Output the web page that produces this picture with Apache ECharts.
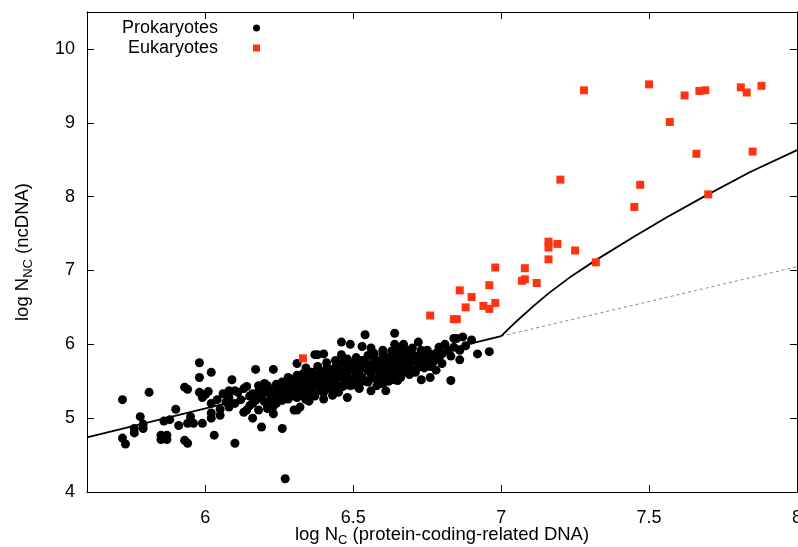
<!DOCTYPE html>
<html>
<head>
<meta charset="utf-8">
<script src="https://cdn.jsdelivr.net/npm/echarts@6/dist/echarts.min.js"></script>
<style>
html,body{margin:0;padding:0;background:#fff;}
#chart{width:798px;height:547px;}
</style>
</head>
<body>
<div id="chart"></div>
<script>
// ---- data ----
var xTicks = [6, 6.5, 7, 7.5, 8];
var yTicks = [4, 5, 6, 7, 8, 9, 10];

var prokaryotes = [
[5.72,5.25],[5.72,4.73],[5.73,4.65],[5.81,5.35],[5.78,5.02],[5.76,4.86],[5.76,4.80],[5.79,4.92],[5.79,4.86],
[5.85,4.77],[5.85,4.71],[5.87,4.77],[5.87,4.71],[5.86,4.96],[5.88,4.98],[5.90,5.12],[5.91,4.90],[5.93,4.70],
[5.94,4.66],[5.93,5.42],[5.94,5.39],[5.95,5.02],[5.94,4.93],[5.96,4.93],[5.98,5.75],[5.98,5.55],[5.98,5.35],
[5.99,5.28],[6.01,5.36],[5.99,4.93],[6.00,5.32],[6.02,5.62],[6.02,5.20],[6.02,5.00],[6.03,4.77],[6.04,5.25],
[6.05,5.04],[6.02,5.07],[6.08,5.37],[6.08,5.15],[6.08,5.28],[6.09,5.52],[6.10,4.66],[6.10,5.37],[6.11,5.35],
[6.13,5.08],[6.14,5.43],[6.14,5.11],[6.15,5.17],[6.16,5.00],[6.16,5.33],[6.17,5.66],[6.17,5.24],[6.18,5.44],
[6.18,5.31],[6.18,5.11],[6.19,4.88],[6.20,5.47],[6.20,5.35],[6.20,5.22],[6.21,5.17],[6.21,5.13],[6.23,5.66],
[6.23,5.06],[6.23,5.28],[6.24,5.46],[6.24,5.20],[6.25,5.33],[6.26,5.49],[6.26,5.24],[6.26,4.86],[6.27,4.18],
[6.27,5.37],[6.28,5.55],[6.28,5.26],[6.29,5.52],[6.30,5.42],[6.30,5.11],[6.31,5.74],[6.31,5.58],[6.31,5.28],
[6.31,5.11],[6.32,5.44],[6.32,5.15],[6.33,5.60],[6.34,5.68],[6.34,5.46],[6.34,5.31],[6.34,5.44],[6.34,5.25],
[6.35,5.60],[6.35,5.24],[6.35,5.23],[6.35,5.35],[6.36,5.35],[6.37,5.86],[6.37,5.58],
[6.38,5.86],[6.40,5.87],[6.38,5.49],[6.39,5.62],[6.39,5.37],[6.40,5.26],[6.41,5.67],[6.41,5.53],[6.42,5.40],
[6.43,5.31],[6.44,5.69],[6.44,5.55],[6.46,6.03],[6.46,5.86],[6.46,5.42],[6.48,5.71],[6.48,5.58],[6.48,5.28],
[6.49,6.00],[6.49,5.44],[6.51,5.73],[6.51,5.60],[6.52,5.41],[6.53,5.97],[6.54,6.13],[6.54,5.78],[6.55,5.64],
[6.55,5.49],[6.56,5.95],[6.56,5.37],[6.57,5.82],[6.58,5.69],[6.58,5.53],[6.58,5.44],[6.60,5.87],[6.60,5.47],
[6.61,5.73],[6.61,5.58],[6.61,5.37],[6.63,5.91],[6.64,6.15],[6.64,6.00],[6.65,5.96],[6.65,5.82],[6.65,5.64],
[6.65,5.51],[6.65,5.69],[6.66,5.91],[6.66,5.82],[6.67,6.00],[6.67,5.73],[6.68,5.82],[6.68,5.62],[6.69,5.91],
[6.69,5.59],[6.70,5.78],[6.72,6.03],[6.72,5.69],[6.73,5.52],[6.74,5.87],[6.74,5.78],[6.75,5.73],[6.76,5.55],
[6.78,5.65],[6.79,5.96],[6.80,5.87],[6.81,6.00],[6.83,5.51],[6.84,6.08],[6.85,6.08],[6.86,5.79],[6.87,6.10],[6.90,6.06],
[6.92,5.87],[6.96,5.90],
[6.36,5.50],[6.37,5.42],[6.40,5.45],[6.42,5.60],[6.43,5.48],[6.45,5.62],[6.45,5.35],[6.47,5.50],[6.50,5.52],
[6.50,5.66],[6.52,5.48],[6.53,5.55],[6.53,5.70],[6.56,5.60],[6.57,5.75],[6.59,5.62],[6.60,5.78],[6.62,5.65],
[6.62,5.50],[6.63,5.80],[6.64,5.60],[6.66,5.55],[6.67,5.65],[6.69,5.70],[6.70,5.86],[6.71,5.62],[6.72,5.80],
[6.73,5.92],[6.76,5.82],[6.77,5.76],[6.78,5.88],[6.30,5.35],[6.28,5.32],[6.25,5.40],[6.22,5.38],[6.22,5.25],
[6.19,5.40],[6.27,5.45],[6.33,5.38],[6.33,5.52],[6.52,5.40],[6.39,5.41],[6.35,5.42],
[6.24,5.38],[6.26,5.30],[6.27,5.42],[6.29,5.36],[6.29,5.47],[6.30,5.30],[6.31,5.50],[6.32,5.36],[6.33,5.30],
[6.34,5.55],[6.35,5.50],[6.36,5.62],[6.36,5.44],[6.37,5.30],[6.38,5.55],[6.38,5.70],[6.39,5.48],[6.40,5.58],
[6.40,5.35],[6.41,5.75],[6.42,5.50],[6.42,5.66],[6.43,5.42],[6.43,5.58],[6.44,5.78],[6.44,5.48],[6.45,5.68],
[6.46,5.56],[6.46,5.75],[6.47,5.44],[6.47,5.63],[6.48,5.80],[6.49,5.52],[6.49,5.68],[6.50,5.75],[6.50,5.45],
[6.51,5.82],[6.52,5.63],[6.52,5.55],[6.53,5.78],[6.54,5.50],[6.54,5.68],[6.55,5.85],[6.56,5.72],[6.56,5.54],
[6.57,5.65],[6.57,5.88],[6.58,5.78],[6.59,5.55],[6.59,5.70],[6.60,5.92],[6.60,5.64],[6.61,5.82],[6.62,5.72],
[6.62,5.58],[6.63,5.86],[6.63,5.66],[6.64,5.76],[6.64,5.52],[6.65,5.88],[6.66,5.62],[6.66,5.74],[6.67,5.86],
[6.68,5.70],[6.68,5.92],[6.69,5.78],[6.70,5.65],[6.70,5.95],[6.71,5.84],[6.72,5.74],[6.73,5.86],[6.74,5.68],
[6.75,5.92],[6.76,5.70],[6.77,5.86],[6.79,5.80],[6.80,5.74],[6.82,5.92],[6.83,5.84],[6.84,5.96],[6.86,5.92],
[6.88,5.98],[6.18,5.36],[6.16,5.20],[6.19,5.28],[6.21,5.44],[6.22,5.32],[6.23,5.16],[6.25,5.25],[6.12,5.25],
[6.13,5.40],[6.15,5.30],[6.10,5.20],[6.07,5.22],[6.06,5.33],[6.05,5.12]
];

var eukaryotes = [
[7.28,9.44],[7.50,9.52],[7.62,9.37],[7.67,9.43],[7.69,9.44],[7.81,9.48],[7.83,9.41],[7.88,9.50],
[7.57,9.01],[7.66,8.58],[7.85,8.61],[7.20,8.23],[7.47,8.16],[7.45,7.86],[7.70,8.03],
[7.16,7.39],[7.16,7.31],[7.19,7.36],[7.25,7.27],[7.16,7.15],[7.32,7.11],[6.98,7.04],[7.08,7.03],
[7.08,6.88],[7.07,6.86],[7.12,6.83],[6.96,6.80],[6.86,6.73],[6.90,6.64],[6.88,6.50],[6.94,6.52],
[6.98,6.56],[6.96,6.48],[6.76,6.39],[6.84,6.34],[6.85,6.34],[6.33,5.81]
];

var fitLinear = [[5.6,4.74],[7.0,6.11]];
var fitCurve = [[7.0,6.11],[7.03,6.23],[7.065,6.36],[7.11,6.52],[7.16,6.69],[7.24,6.93],[7.32,7.14],
[7.45,7.46],[7.56,7.72],[7.69,8.01],[7.84,8.33],[8.0,8.63]];
var fitExtension = [[7.0,6.11],[8.0,7.05]];

// ---- chart ----
var FONT = 'Liberation Sans, Arial, Helvetica, sans-serif';
var chart = echarts.init(document.getElementById('chart'), null, {renderer:'canvas'});
var nameRich = {
  t: {fontSize: 18.5, fontFamily: FONT, color: '#000', lineHeight: 22},
  s: {fontSize: 13, fontFamily: FONT, color: '#000', lineHeight: 13, padding: [10,0,0,0]}
};
var frameLine = {show: true, onZero: false, lineStyle: {color: '#000', width: 1}};
var tickStyle = {show: true, inside: true, length: 7, lineStyle: {color: '#000', width: 1}};

chart.setOption({
  animation: false,
  backgroundColor: '#fff',
  grid: {left: 87, right: 1, top: 12, bottom: 55, containLabel: false, outerBoundsMode: 'none'},
  legend: {
    orient: 'vertical',
    align: 'right',
    right: 538,
    top: 19,
    padding: 0,
    itemGap: 2,
    itemWidth: 7,
    itemHeight: 7,
    formatter: '{n|{name}}',
    textStyle: {fontFamily: FONT, fontSize: 18, color: '#000',
      rich: {n: {fontFamily: FONT, fontSize: 18, color: '#000', lineHeight: 20, padding: [0, 30, 0, 0]}}},
    data: [{name: 'Prokaryotes', icon: 'circle'}, {name: 'Eukaryotes', icon: 'rect'}]
  },
  xAxis: [{
    type: 'value', min: 5.6, max: 8, position: 'bottom',
    name: '{t|log N}{s|C}{t| (protein-coding-related DNA)}',
    nameLocation: 'middle', nameGap: 32, nameMoveOverlap: false,
    nameTextStyle: {rich: nameRich},
    axisLine: frameLine,
    axisTick: Object.assign({customValues: xTicks}, tickStyle),
    axisLabel: {customValues: xTicks, fontFamily: FONT, fontSize: 18, color: '#000', margin: 17,
      formatter: function (v) { return String(v); }},
    splitLine: {show: false}
  }, {
    type: 'value', min: 5.6, max: 8, position: 'top',
    axisLine: frameLine,
    axisTick: Object.assign({customValues: xTicks}, tickStyle),
    axisLabel: {show: false},
    splitLine: {show: false}
  }],
  yAxis: [{
    type: 'value', min: 4, max: 10.5, position: 'left',
    name: '{t|log N}{s|NC}{t| (ncDNA)}',
    nameLocation: 'middle', nameGap: 53, nameRotate: 90, nameMoveOverlap: false,
    nameTextStyle: {rich: nameRich},
    axisLine: frameLine,
    axisTick: Object.assign({customValues: yTicks}, tickStyle),
    axisLabel: {customValues: yTicks, fontFamily: FONT, fontSize: 18, color: '#000', margin: 12},
    splitLine: {show: false}
  }, {
    type: 'value', min: 4, max: 10.5, position: 'right',
    axisLine: frameLine,
    axisTick: Object.assign({customValues: yTicks}, tickStyle),
    axisLabel: {show: false},
    splitLine: {show: false}
  }],
  series: [
    {type: 'line', name: 'fit-linear', data: fitLinear, symbol: 'none', silent: true, z: 3,
      lineStyle: {color: '#000', width: 1.8}},
    {type: 'line', name: 'fit-curve', data: fitCurve, symbol: 'none', smooth: false, silent: true, z: 3,
      lineStyle: {color: '#000', width: 1.8, join: 'round'}},
    {type: 'line', name: 'fit-ext', data: fitExtension, symbol: 'none', silent: true, z: 2,
      lineStyle: {color: '#888', width: 1, type: [3, 3]}},
    {type: 'scatter', name: 'Prokaryotes', data: prokaryotes, symbol: 'circle', symbolSize: 9, z: 4,
      itemStyle: {color: '#000', opacity: 1}},
    {type: 'scatter', name: 'Eukaryotes', data: eukaryotes, symbol: 'rect', symbolSize: 8, z: 5,
      itemStyle: {color: '#ff3311', opacity: 1}}
  ]
});
</script>
</body>
</html>
